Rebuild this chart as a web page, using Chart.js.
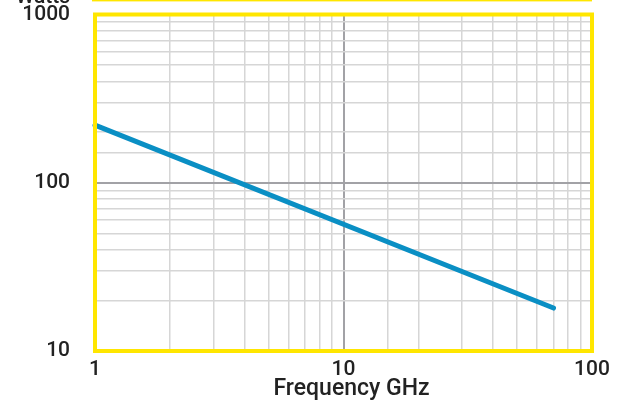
<!DOCTYPE html>
<html>
<head>
<meta charset="utf-8">
<script src="https://cdn.jsdelivr.net/npm/chart.js@4.4.1/dist/chart.umd.min.js"></script>
<style>
html,body{margin:0;padding:0;background:#fff;}
#wrap{width:622px;height:408px;position:relative;}
</style>
</head>
<body>
<div id="wrap"><canvas id="c" width="622" height="408"></canvas></div>
<script>
const freqGHz = [1, 70];
const watts = [220, 18];
const xTickLabels = [1, 10, 100];
const yTickLabels = [10, 100, 1000];
const yTitle = "Watts";
const xTitle = "Frequency GHz";

const FONT = {family: "Roboto", size: 21, weight: 500};
const TEXT = "#222222";
const YELLOW = "#FFE600";

const isMajor = v => Math.abs(Math.log10(v) - Math.round(Math.log10(v))) < 1e-9;

const framePlugin = {
  id: "frame",
  afterDraw(chart) {
    const {ctx, chartArea: a} = chart;
    ctx.save();
    ctx.strokeStyle = YELLOW;
    ctx.lineWidth = 4;
    ctx.strokeRect(a.left, a.top, a.right - a.left, a.bottom - a.top);
    ctx.fillStyle = YELLOW;
    ctx.fillRect(a.left - 3, 0, a.right - a.left + 3, 1.4);
    ctx.fillStyle = TEXT;
    ctx.font = "500 21px Roboto";
    ctx.textAlign = "right";
    ctx.textBaseline = "alphabetic";
    ctx.fillText(yTitle, 70, 3);
    ctx.font = "500 23px Roboto";
    ctx.textAlign = "center";
    ctx.fillText(xTitle, (a.left + a.right) / 2 + 8, 395);
    ctx.restore();
  }
};

new Chart(document.getElementById("c"), {
  type: "line",
  data: {
    datasets: [{
      data: freqGHz.map((f, i) => ({x: f, y: watts[i]})),
      borderColor: "#0A8FC4",
      borderWidth: 5,
      pointRadius: 0,
      borderCapStyle: "round",
      fill: false,
      clip: false
    }]
  },
  options: {
    responsive: false,
    animation: false,
    layout: {padding: {top: 14.5, right: 30, left: 0, bottom: 0}},
    plugins: {legend: {display: false}, tooltip: {enabled: false}},
    scales: {
      x: {
        type: "logarithmic",
        min: 1, max: 100,
        afterBuildTicks(s) { s.ticks = s.ticks.filter(t => t.value >= 1 && t.value <= 100); },
        afterFit(s) { s.height = 57; },
        grid: {
          drawTicks: true, tickLength: 6, tickColor: "rgba(0,0,0,0)",
          color: c => isMajor(c.tick.value) ? "#A2A2A6" : "#D6D6D6",
          lineWidth: c => isMajor(c.tick.value) ? 2 : 1.5
        },
        border: {display: false},
        ticks: {
          autoSkip: false, maxRotation: 0, padding: 0,
          color: TEXT, font: FONT,
          callback: v => xTickLabels.includes(v) ? String(v) : ""
        }
      },
      y: {
        type: "logarithmic",
        min: 10, max: 1000,
        afterFit(s) { s.width = 95; },
        grid: {
          drawTicks: true, tickLength: 25, tickColor: "rgba(0,0,0,0)",
          color: c => isMajor(c.tick.value) ? "#A2A2A6" : "#D6D6D6",
          lineWidth: c => isMajor(c.tick.value) ? 2 : 1.5
        },
        border: {display: false},
        ticks: {
          autoSkip: false, padding: 0,
          color: TEXT, font: FONT,
          callback: v => yTickLabels.includes(v) ? String(v) : ""
        }
      }
    }
  },
  plugins: [framePlugin]
});
</script>
</body>
</html>
